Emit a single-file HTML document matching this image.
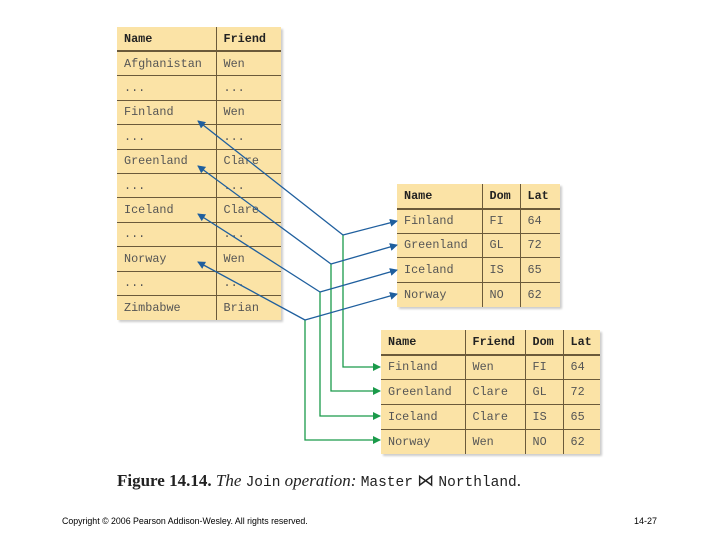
<!DOCTYPE html>
<html><head><style>
body{margin:0;width:720px;height:540px;background:#fff;position:relative;overflow:hidden;font-family:"Liberation Mono",monospace}
.t{position:absolute;background:#fbe3a6;box-shadow:2px 2px 2px #ccc;border-collapse:collapse}
.t td{font-size:11.8px;color:#555;padding:0 0 0 7px;border-bottom:1.5px solid #6b5a3a;border-right:1.5px solid #6b5a3a;height:23px;box-sizing:border-box;white-space:nowrap}
.t td:last-child{border-right:none}
.t tr:last-child td{border-bottom:none}
.t tr:first-child td{font-weight:bold;color:#222;border-bottom:2.5px solid #6b5a3a}
svg{position:absolute;left:0;top:0}
.m{font-family:'Liberation Mono',monospace;font-size:14.5px}
</style></head><body>
<table class="t" style="left:117px;top:27px;width:164px;height:293px">
<colgroup><col style="width:99px"><col></colgroup>
<tr><td>Name</td><td>Friend</td></tr>
<tr><td>Afghanistan</td><td>Wen</td></tr>
<tr><td>...</td><td>...</td></tr>
<tr><td>Finland</td><td>Wen</td></tr>
<tr><td>...</td><td>...</td></tr>
<tr><td>Greenland</td><td>Clare</td></tr>
<tr><td>...</td><td>...</td></tr>
<tr><td>Iceland</td><td>Clare</td></tr>
<tr><td>...</td><td>...</td></tr>
<tr><td>Norway</td><td>Wen</td></tr>
<tr><td>...</td><td>...</td></tr>
<tr><td>Zimbabwe</td><td>Brian</td></tr>
</table>
<table class="t" style="left:397px;top:184px;width:163px;height:123px">
<colgroup><col style="width:85px"><col style="width:38px"><col></colgroup>
<tr><td>Name</td><td>Dom</td><td>Lat</td></tr>
<tr><td>Finland</td><td>FI</td><td>64</td></tr>
<tr><td>Greenland</td><td>GL</td><td>72</td></tr>
<tr><td>Iceland</td><td>IS</td><td>65</td></tr>
<tr><td>Norway</td><td>NO</td><td>62</td></tr>
</table>
<table class="t" style="left:381px;top:330px;width:219px;height:124px">
<colgroup><col style="width:84px"><col style="width:60px"><col style="width:38px"><col></colgroup>
<tr><td>Name</td><td>Friend</td><td>Dom</td><td>Lat</td></tr>
<tr><td>Finland</td><td>Wen</td><td>FI</td><td>64</td></tr>
<tr><td>Greenland</td><td>Clare</td><td>GL</td><td>72</td></tr>
<tr><td>Iceland</td><td>Clare</td><td>IS</td><td>65</td></tr>
<tr><td>Norway</td><td>Wen</td><td>NO</td><td>62</td></tr>
</table>
<svg width="720" height="540">
<defs>
<marker id="b" markerWidth="8" markerHeight="8" refX="7" refY="4" orient="auto" markerUnits="userSpaceOnUse"><path d="M0,0L8,4L0,8z" fill="#1f5f9e"/></marker>
<marker id="g" markerWidth="8" markerHeight="8" refX="7" refY="4" orient="auto" markerUnits="userSpaceOnUse"><path d="M0,0L8,4L0,8z" fill="#1a9a4a"/></marker>
</defs>
<g fill="none" stroke-width="1.3">
<g stroke="#1a9a4a">
<path d="M343,235V367H380" marker-end="url(#g)"/>
<path d="M331,264V391H380" marker-end="url(#g)"/>
<path d="M320,292V416H380" marker-end="url(#g)"/>
<path d="M305,320V440H380" marker-end="url(#g)"/>
</g>
<g stroke="#1f5f9e">
<path d="M343,235L198,121" marker-end="url(#b)"/>
<path d="M331,264L198,166" marker-end="url(#b)"/>
<path d="M320,292L198,214" marker-end="url(#b)"/>
<path d="M305,320L198,262" marker-end="url(#b)"/>
<path d="M343,235L397,221" marker-end="url(#b)"/>
<path d="M331,264L397,245" marker-end="url(#b)"/>
<path d="M320,292L397,270" marker-end="url(#b)"/>
<path d="M305,320L397,294" marker-end="url(#b)"/>
</g></g>
</svg>
<div style="position:absolute;left:117px;top:471px;font-family:'Liberation Serif',serif;font-size:17px;color:#222;white-space:nowrap"><b>Figure 14.14.</b> <i>The</i> <span class="m">Join</span> <i>operation:</i> <span class="m">Master</span> ⋈ <span class="m">Northland</span>.</div>
<div style="position:absolute;left:62px;top:516px;font-family:'Liberation Sans',sans-serif;font-size:8.8px;color:#000;white-space:nowrap">Copyright © 2006 Pearson Addison-Wesley. All rights reserved.</div>
<div style="position:absolute;left:634px;top:516px;font-family:'Liberation Sans',sans-serif;font-size:9px;color:#000">14-27</div>
</body></html>
